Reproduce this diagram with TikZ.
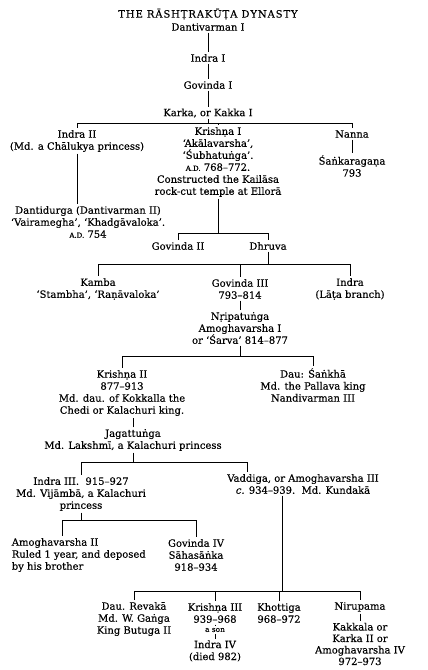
\documentclass[tikz,border=0pt]{standalone}
\usepackage{fontspec}
\setmainfont[FakeBold=0.3]{DejaVu Serif}
\newfontfamily\titlefont[LetterSpace=9,FakeBold=0.3]{DejaVu Serif}
\newcommand{\treefont}{\fontsize{10}{12}\selectfont}
\newcommand{\ad}{{\fontsize{7}{12}\selectfont A.D.}}

\begin{document}
\begin{tikzpicture}[x=1pt,y=-1pt,line width=.6pt,
  every node/.style={font=\treefont,align=center,inner sep=1.5pt}]
  \useasboundingbox (0,0) rectangle (428,670);
  % levels of the bars
  \coordinate (b1) at (0,123);
  \coordinate (b2) at (0,233);
  \coordinate (b3) at (0,264);
  \coordinate (b4) at (0,356);
  \coordinate (b5) at (0,462);
  \coordinate (b6) at (0,520);
  \coordinate (b7) at (0,591);
  % first kings
  \node[font={\fontsize{10}{12}\titlefont}] (title) at (208,14) {THE RĀSHṬRAKŪṬA DYNASTY};
  \node (dant) at (208,27) {Dantivarman I};
  \node (indra1) at (208,58) {Indra I};
  \node (gov1) at (208,85) {Govinda I};
  \node (karka) at (208,113) {Karka, or Kakka I};
  \draw (dant.south) -- (indra1.north);
  \draw (indra1.south) -- (gov1.north);
  \draw (gov1.south) -- (karka.north);
  % sons of Karka
  \node (indra2) at (77,141) {Indra II\\(Md. a Chālukya princess)};
  \node (kri1) at (218,162) {Krishṇa I\\‘Akālavarsha’,\\‘Śubhatuṅga’.\\\ad\ 768–772.\\Constructed the Kailāsa\\rock-cut temple at Ellorā};
  \node (nanna) at (352,134) {Nanna};
  \node (sank) at (352,166) {Śaṅkaragaṇa\\793};
  \node (danti) at (88,222) {Dantidurga (Dantivarman II)\\‘Vairamegha’, ‘Khadgāvaloka’.\\\ad\ 754};
  \draw (karka.south) -- (karka.south |- b1);
  \draw (indra2.north |- b1) -- (nanna.north |- b1);
  \draw (indra2.north |- b1) -- (indra2.north);
  \draw (kri1.north |- b1) -- (kri1.north);
  \draw (nanna.north |- b1) -- (nanna.north);
  \draw (nanna.south) -- (sank.north);
  \draw (indra2.south) -- (indra2.south |- danti.north);
  % sons of Krishna I
  \node (gov2) at (178,246) {Govinda II};
  \node (dhruva) at (268,246) {Dhruva};
  \draw (kri1.south) -- (kri1.south |- b2);
  \draw (gov2.north |- b2) -- (dhruva.north |- b2);
  \draw (gov2.north |- b2) -- (gov2.north);
  \draw (dhruva.north |- b2) -- (dhruva.north);
  % sons of Dhruva
  \node (kamba) at (98,289) {Kamba\\‘Stambha’, ‘Raṇāvaloka’};
  \node (gov3) at (240,289) {Govinda III\\793–814};
  \node (indraL) at (350,289) {Indra\\(Lāṭa branch)};
  \node (nripa) at (240,328) {Nṛipatuṅga\\Amoghavarsha I\\or ‘Śarva’ 814–877};
  \draw (dhruva.south) -- (dhruva.south |- b3);
  \draw (kamba.north |- b3) -- (indraL.north |- b3);
  \draw (kamba.north |- b3) -- (kamba.north);
  \draw (gov3.north |- b3) -- (gov3.north);
  \draw (indraL.north |- b3) -- (indraL.north);
  \draw (gov3.south) -- (nripa.north);
  % children of Amoghavarsha I
  \node (kri2) at (122,393) {Krishṇa II\\877–913\\Md. dau. of Kokkalla the\\Chedi or Kalachuri king.};
  \node (sankha) at (313,385) {Dau: Śaṅkhā\\Md. the Pallava king\\Nandivarman III};
  \node (jagat) at (133,440) {Jagattuṅga\\Md. Lakshmī, a Kalachuri princess};
  \draw (nripa.south) -- (nripa.south |- b4);
  \draw (kri2.north |- b4) -- (sankha.north |- b4);
  \draw (kri2.north |- b4) -- (kri2.north);
  \draw (sankha.north |- b4) -- (sankha.north);
  \draw (jagat.north) -- (jagat.north |- kri2.south);
  % sons of Jagattunga
  \node (indra3) at (81,494) {Indra III.\ \ 915–927\\Md. Vijāmbā, a Kalachuri\\princess};
  \node (vaddiga) at (303,484) {Vaddiga, or Amoghavarsha III\\\textit{c.} 934–939.\ \ Md. Kundakā};
  \coordinate (vtick) at (247,0);
  \draw (jagat.south) -- (jagat.south |- b5);
  \draw (indra3.north |- b5) -- (vtick |- b5);
  \draw (indra3.north |- b5) -- (indra3.north);
  \draw (vtick |- b5) -- (vtick |- vaddiga.north);
  % sons of Indra III
  \node[anchor=west,align=left] (amogha2) at (10,555) {Amoghavarsha II\\Ruled 1 year, and deposed\\by his brother};
  \node (gov4) at (196,555) {Govinda IV\\Sāhasāṅka\\918–934};
  \coordinate (atick) at (62,0);
  \draw (indra3.south) -- (indra3.south |- b6);
  \draw (atick |- b6) -- (gov4.north |- b6);
  \draw (atick |- b6) -- (atick |- amogha2.north);
  \draw (gov4.north |- b6) -- (gov4.north);
  % children of Vaddiga
  \node (revaka) at (134,619) {Dau. Revakā\\Md. W. Gaṅga\\King Butuga II};
  \node (kri3) at (215,613) {Krishṇa III\\939–968};
  \node[font=\fontsize{7.4}{9}\selectfont] (son) at (215,630) {a son};
  \node (indra4) at (215,651) {Indra IV\\(died 982)};
  \node (khott) at (279,613) {Khottiga\\968–972};
  \node (nirup) at (360,607) {Nirupama};
  \node[font=\fontsize{10}{11.5}\selectfont] (kakkala) at (360,644) {Kakkala or\\Karka II or\\Amoghavarsha IV\\972–973};
  \coordinate (vdrop) at (282,0);
  \draw (vdrop |- vaddiga.south) -- (vdrop |- b7);
  \draw (revaka.north |- b7) -- (nirup.north |- b7);
  \draw (revaka.north |- b7) -- (revaka.north);
  \draw (kri3.north |- b7) -- (kri3.north);
  \draw (khott.north |- b7) -- (khott.north);
  \draw (nirup.north |- b7) -- (nirup.north);
  \draw (kri3.south) -- (son.north);
  \draw (son.south) -- (indra4.north);
  \draw (nirup.south) -- (kakkala.north);
\end{tikzpicture}
\end{document}
